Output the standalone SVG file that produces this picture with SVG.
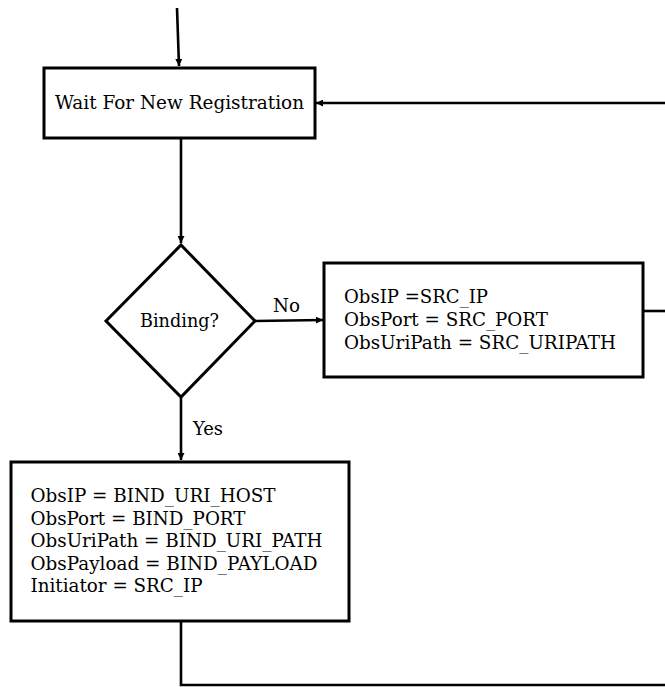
<svg xmlns="http://www.w3.org/2000/svg" width="665" height="687" viewBox="0 0 665 687">
<style>
.box{fill:#fff;stroke:#000;stroke-width:3}
.ln{fill:none;stroke:#000;stroke-width:2.6}
text{font-family:"DejaVu Serif","Liberation Serif",serif;font-size:19px;fill:#000}
</style>
<defs>
<marker id="ah" viewBox="0 0 10 10" refX="10" refY="5" markerWidth="7" markerHeight="7" markerUnits="userSpaceOnUse" orient="auto">
<path d="M0,0 L10,5 L0,10 Z" fill="#000"/>
</marker>
</defs>
<rect width="665" height="687" fill="#fff"/>
<g id="connectors">
<path class="ln" d="M177,8 L179,66" marker-end="url(#ah)"/>
<path class="ln" d="M665,103 L316,103" marker-end="url(#ah)"/>
<path class="ln" d="M181,138 L181,243" marker-end="url(#ah)"/>
<path class="ln" d="M255,321 L323,320" marker-end="url(#ah)"/>
<path class="ln" d="M643,311 L665,311"/>
<path class="ln" d="M181,398 L181,460" marker-end="url(#ah)"/>
<path class="ln" d="M181,622 L181,685 L665,685"/>
<text x="273" y="312" textLength="27" lengthAdjust="spacingAndGlyphs">No</text>
<text x="193" y="435" textLength="30" lengthAdjust="spacingAndGlyphs">Yes</text>
</g>
<g id="wait">
<rect class="box" x="44" y="68" width="271" height="70"/>
<text x="55" y="109" textLength="249" lengthAdjust="spacingAndGlyphs">Wait For New Registration</text>
</g>
<g id="binding">
<path class="box" d="M181,245 L255,321 L181,397 L106,321 Z"/>
<text x="140" y="327" textLength="79" lengthAdjust="spacingAndGlyphs">Binding?</text>
</g>
<g id="src">
<rect class="box" x="324" y="263" width="319" height="114"/>
<text x="344" y="303" textLength="144" lengthAdjust="spacingAndGlyphs">ObsIP =SRC_IP</text>
<text x="344" y="326" textLength="204" lengthAdjust="spacingAndGlyphs">ObsPort = SRC_PORT</text>
<text x="344" y="349" textLength="272" lengthAdjust="spacingAndGlyphs">ObsUriPath = SRC_URIPATH</text>
</g>
<g id="bind">
<rect class="box" x="11" y="462" width="338" height="159"/>
<text x="30.5" y="502" textLength="245" lengthAdjust="spacingAndGlyphs">ObsIP = BIND_URI_HOST</text>
<text x="30.5" y="524.5" textLength="215" lengthAdjust="spacingAndGlyphs">ObsPort = BIND_PORT</text>
<text x="30.5" y="547" textLength="292" lengthAdjust="spacingAndGlyphs">ObsUriPath = BIND_URI_PATH</text>
<text x="30.5" y="569.5" textLength="287" lengthAdjust="spacingAndGlyphs">ObsPayload = BIND_PAYLOAD</text>
<text x="30.5" y="592" textLength="172" lengthAdjust="spacingAndGlyphs">Initiator = SRC_IP</text>
</g>
</svg>
